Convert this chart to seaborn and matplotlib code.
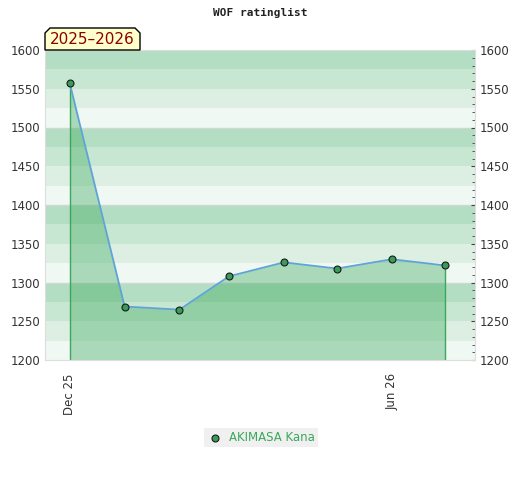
import pandas as pd
import numpy as np
import seaborn as sns
from matplotlib import pyplot as plt
from matplotlib.patches import Polygon
import matplotlib.dates as mdates

# rating list dates and ratings
dates = ['2025-12-01', '2026-01-01', '2026-02-01', '2026-03-01',
         '2026-04-01', '2026-05-01', '2026-06-01', '2026-07-01']
ratings = [1557, 1269, 1265, 1308, 1326, 1318, 1330, 1322]
player = 'AKIMASA Kana'
season = '2025\u20132026'
yticks = [1200, 1250, 1300, 1350, 1400, 1450, 1500, 1550, 1600]
xtick_dates = ['2025-12-01', '2026-06-01']
xtick_labels = ['Dec 25', 'Jun 26']

df = pd.DataFrame({'date': pd.to_datetime(dates), 'rating': ratings, 'player': player})

sns.set_style('white')
plt.rcParams['font.family'] = ['DejaVu Sans']
fig = plt.figure(figsize=(5.2, 4.8), dpi=100)
ax = fig.add_axes([45/520, 1-360/480, 430/520, 310/480])

# background bands, 4 shades per 100 points
shades = ['#eff8f2', '#dcefe2', '#c8e7d2', '#b3dec3']
for lo in range(1200, 1600, 25):
    ax.axhspan(lo, lo + 25, color=shades[(lo // 25) % 4], lw=0, zorder=0)
for y in [1300, 1400, 1500]:
    ax.axhline(y, color='#cfd8d2', lw=1, zorder=0.5)

ax.fill_between(df['date'], df['rating'], 1200, color='#3aa85c', alpha=0.38, lw=0, zorder=1)
ax.vlines([df['date'].iloc[0], df['date'].iloc[-1]], 1200,
          [df['rating'].iloc[0], df['rating'].iloc[-1]], color='#3aa85c', lw=1, zorder=2)
sns.lineplot(data=df, x='date', y='rating', ax=ax, color='#5fa3d8', lw=1.3,
             marker='o', markersize=5, markerfacecolor='#3a9a5a',
             markeredgecolor='#1a1a1a', markeredgewidth=0.8, zorder=3, legend=False)

ax.set_xlim(pd.Timestamp('2025-11-17'), pd.Timestamp('2026-07-18'))
ax.set_ylim(1200, 1600)
ax.set_xlabel('')
ax.set_ylabel('')
ax.set_yticks(yticks)
ax.set_xticks(pd.to_datetime(xtick_dates))
ax.set_xticklabels(xtick_labels, rotation=90, fontsize=8.5, color='#333333')
ax.tick_params(axis='y', labelsize=8.5, labelcolor='#333333', left=False,
               labelright=True, right=True, direction='in', length=3, color='#444444')
ax.yaxis.set_minor_locator(plt.MultipleLocator(10))
ax.tick_params(axis='y', which='minor', right=True, left=False, direction='in',
               length=2.5, color='#444444')
ax.tick_params(axis='x', bottom=False, pad=6)
for s in ax.spines.values():
    s.set_color('#dddddd')

fig.text(0.5, 1-13/480, 'WOF ratinglist', ha='center', va='center',
         family='DejaVu Sans Mono', fontweight='bold', fontsize=8, color='#222222')

# season tag with cut top corners
bx0, bx1, by0, by1, c = 45/520, 140/520, 1-50/480, 1-28/480, 5
box = Polygon([(bx0, by0), (bx0, by1 - c/480), (bx0 + c/520, by1), (bx1 - c/520, by1),
               (bx1, by1 - c/480), (bx1, by0)], closed=True, transform=fig.transFigure,
              facecolor='#ffffcc', edgecolor='black', lw=1)
fig.patches.append(box)
fig.text((bx0 + bx1) / 2, (by0 + by1) / 2 - 1/480, season, ha='center', va='center',
         fontsize=11, color='#8b0000')

# legend
lx0, lx1, ly0, ly1 = 204/520, 318/520, 1-447/480, 1-428/480
fig.patches.append(plt.Rectangle((lx0, ly0), lx1 - lx0, ly1 - ly0, transform=fig.transFigure,
                                 facecolor='#f0f0f0', lw=0))
fig.lines.append(plt.Line2D([215/520], [(ly0 + ly1) / 2], transform=fig.transFigure,
                            marker='o', markersize=5, markerfacecolor='#3a9a5a',
                            markeredgecolor='#1a1a1a', markeredgewidth=0.8, linestyle=''))
fig.text(229/520, (ly0 + ly1) / 2, player, ha='left', va='center', fontsize=8.5, color='#3aa85c')

fig.savefig('out.png', dpi=100)
